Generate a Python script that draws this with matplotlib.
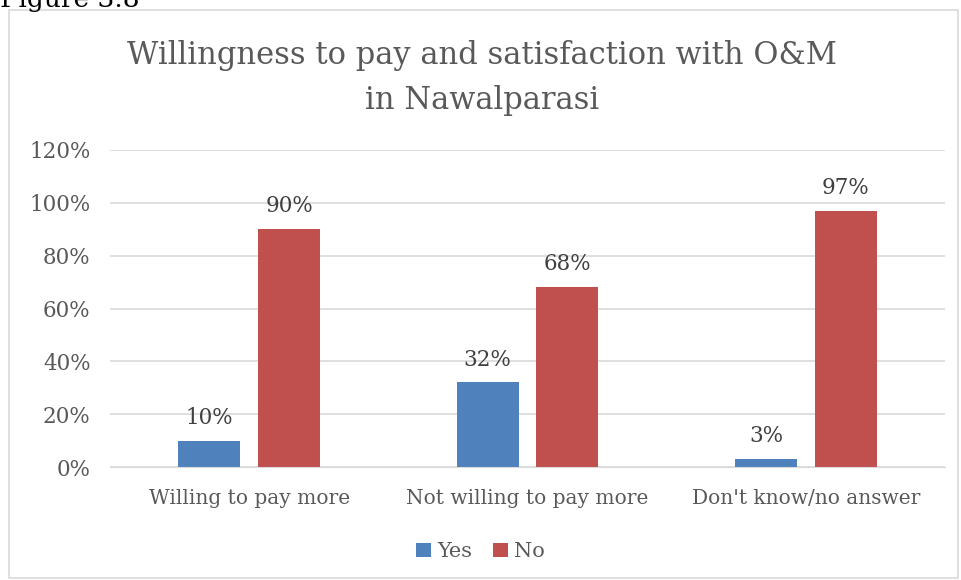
import matplotlib
matplotlib.use("Agg")
from matplotlib import pyplot as plt
from matplotlib.patches import Rectangle
import numpy as np

categories = ["Willing to pay more", "Not willing to pay more", "Don't know/no answer"]
yes_vals = [10, 32, 3]
no_vals = [90, 68, 97]
yticks = [0, 20, 40, 60, 80, 100, 120]

plt.rcParams['font.family'] = ['DejaVu Serif']
grey = '#595959'

fig = plt.figure(figsize=(9.61, 5.8), dpi=100)
fig.patches.append(Rectangle((9 / 961, 2 / 580), 949 / 961, 568 / 580, transform=fig.transFigure,
                             fill=False, edgecolor='#D9D9D9', linewidth=1.2))
fig.text(0.0, 1.0 + 0.022, "Figure 3.8", fontsize=19, color='black', va='top', ha='left')

ax = fig.add_axes([0.1145, 0.1948, 0.869, 0.5466])
x = np.arange(len(categories))
w = 0.223
b1 = ax.bar(x - 0.143, yes_vals, w, color='#4F81BD', label='Yes')
b2 = ax.bar(x + 0.143, no_vals, w, color='#C0504D', label='No')
for bars, vals in [(b1, yes_vals), (b2, no_vals)]:
    for r, v in zip(bars, vals):
        ax.text(r.get_x() + r.get_width() / 2, v + 4.5, "{}%".format(v), ha='center', va='bottom',
                fontsize=15.5, color='#404040')

ax.set_xlim(-0.5, 2.5)
ax.set_ylim(0, 120)
ax.set_yticks(yticks)
ax.set_yticklabels(["{}%".format(t) for t in yticks], fontsize=15.5, color=grey)
ax.set_xticks(x)
ax.set_xticklabels(categories, fontsize=14.5, color=grey)
ax.tick_params(axis='y', length=0, pad=14)
ax.tick_params(axis='x', length=0, pad=16)
ax.grid(axis='y', color='#D9D9D9', linewidth=1.2)
ax.set_axisbelow(True)
for s in ['top', 'right', 'left']:
    ax.spines[s].set_visible(False)
ax.spines['bottom'].set_color('#D9D9D9')

fig.text(0.502, 0.865, "Willingness to pay and satisfaction with O&M\nin Nawalparasi", ha='center', va='center',
         fontsize=22, color=grey, linespacing=1.6)

fig.legend(loc='lower center', bbox_to_anchor=(0.5, 0.0), ncol=2, frameon=False, fontsize=15,
           handlelength=0.7, handleheight=0.7, handletextpad=0.3, columnspacing=1.0, labelcolor=grey)

fig.savefig("out.png", dpi=100)
